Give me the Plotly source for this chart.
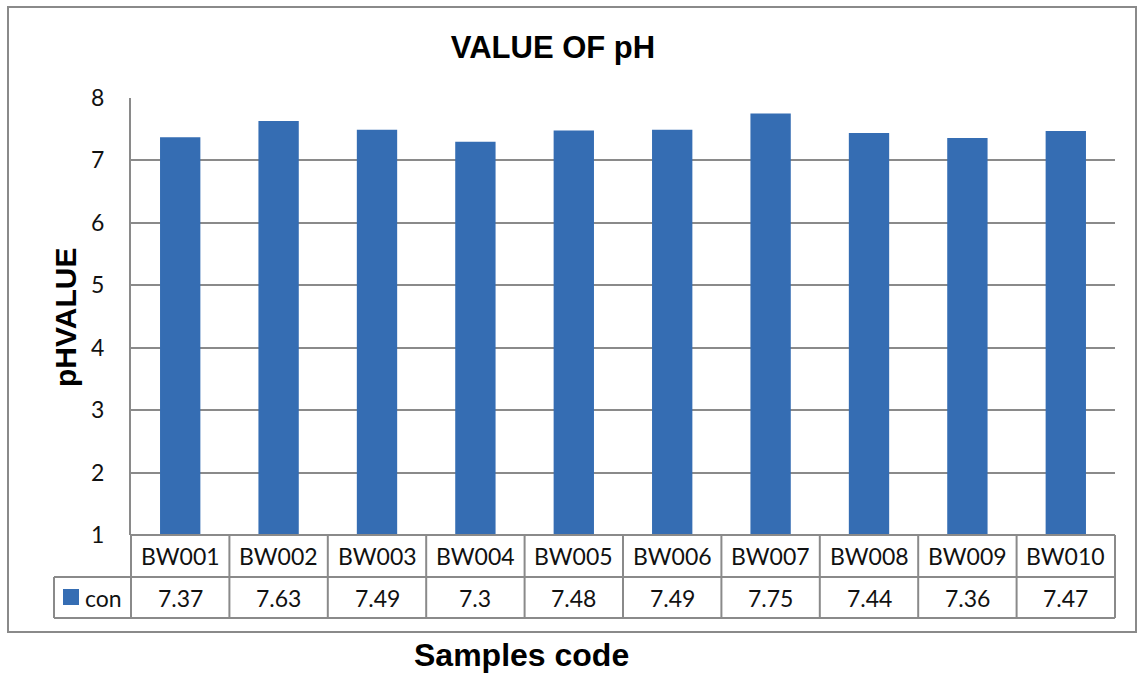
import plotly.graph_objects as go

categories = ["BW001", "BW002", "BW003", "BW004", "BW005",
              "BW006", "BW007", "BW008", "BW009", "BW010"]
series_name = "con"
ph_values = [7.37, 7.63, 7.49, 7.3, 7.48, 7.49, 7.75, 7.44, 7.36, 7.47]
y_ticks = [1, 2, 3, 4, 5, 6, 7, 8]

W, H = 1138, 675
L, R, T, B = 131, 23, 98, 140
PW, PH = W - L - R, H - T - B

def px(xp):
    return (xp - L) / PW

def py(yp):
    return (H - B - yp) / PH

GRID = "#8a8a8a"
BAR = "#356db3"
TICKFONT = dict(family="Lato, Carlito, Calibri, sans-serif", size=23, color="#111111")
BOLD = "Liberation Sans, Arial, sans-serif"

fig = go.Figure()
fig.add_trace(go.Bar(
    x=categories, y=ph_values, name=series_name,
    marker=dict(color=BAR, line=dict(width=0)),
    width=0.41, showlegend=False,
))

shapes = []
n = len(categories)
row1_bot, row2_bot = 577, 618
axis_y = H - B
# outer chart border
shapes.append(dict(type="rect", xref="paper", yref="paper",
                   x0=px(8), x1=px(1136), y0=py(632), y1=py(7),
                   line=dict(color=GRID, width=2), layer="below"))
# table horizontal lines
for yy, x0 in [(axis_y, L), (row1_bot, 54), (row2_bot, 54)]:
    shapes.append(dict(type="line", xref="paper", yref="paper",
                       x0=px(x0), x1=1, y0=py(yy), y1=py(yy),
                       line=dict(color=GRID, width=2)))
# table vertical lines
for k in range(n + 1):
    xk = k / n
    shapes.append(dict(type="line", xref="paper", yref="paper",
                       x0=xk, x1=xk, y0=py(row2_bot), y1=py(axis_y),
                       line=dict(color=GRID, width=2)))
shapes.append(dict(type="line", xref="paper", yref="paper",
                   x0=px(54), x1=px(54), y0=py(row2_bot), y1=py(row1_bot),
                   line=dict(color=GRID, width=2)))
# legend key square
shapes.append(dict(type="rect", xref="paper", yref="paper",
                   x0=px(63), x1=px(79), y0=py(605), y1=py(589),
                   fillcolor=BAR, line=dict(width=0)))

annotations = []
for i, (c, v) in enumerate(zip(categories, ph_values)):
    xc = (i + 0.5) / n
    annotations.append(dict(xref="paper", yref="paper", x=xc, y=py((axis_y + row1_bot) / 2),
                            text=c, showarrow=False, font=TICKFONT,
                            xanchor="center", yanchor="middle"))
    annotations.append(dict(xref="paper", yref="paper", x=xc, y=py((row1_bot + row2_bot) / 2),
                            text=f"{v:g}", showarrow=False, font=TICKFONT,
                            xanchor="center", yanchor="middle"))
annotations.append(dict(xref="paper", yref="paper", x=px(83), y=py((row1_bot + row2_bot) / 2),
                        text=series_name, showarrow=False, font=TICKFONT,
                        xanchor="left", yanchor="middle"))
# axis titles
annotations.append(dict(xref="paper", yref="paper", x=px(65), y=py(318),
                        text="<b>pHVALUE</b>", showarrow=False, textangle=-90,
                        font=dict(family=BOLD, size=30, color="#000000"),
                        xanchor="center", yanchor="middle"))
annotations.append(dict(xref="paper", yref="paper", x=px(521), y=py(655),
                        text="<b>Samples code</b>", showarrow=False,
                        font=dict(family=BOLD, size=32, color="#000000"),
                        xanchor="center", yanchor="middle"))

fig.update_layout(
    width=W, height=H,
    margin=dict(l=L, r=R, t=T, b=B),
    paper_bgcolor="white", plot_bgcolor="white",
    title=dict(text="<b>VALUE OF pH</b>", x=px(553), xref="paper", xanchor="center",
               y=1 - 47 / H, yref="container", yanchor="middle",
               font=dict(family=BOLD, size=31, color="#000000")),
    bargap=0.59,
    xaxis=dict(type="category", range=[-0.5, n - 0.5], showticklabels=False,
               showgrid=False, zeroline=False, ticks="", fixedrange=True),
    yaxis=dict(range=[1, 8], tickvals=y_ticks, showgrid=True, gridcolor=GRID, gridwidth=2,
               showline=True, linecolor=GRID, linewidth=2, zeroline=False,
               ticks="", ticklabelstandoff=20, tickfont=TICKFONT),
    shapes=shapes, annotations=annotations,
)

fig.write_html("out.html")
